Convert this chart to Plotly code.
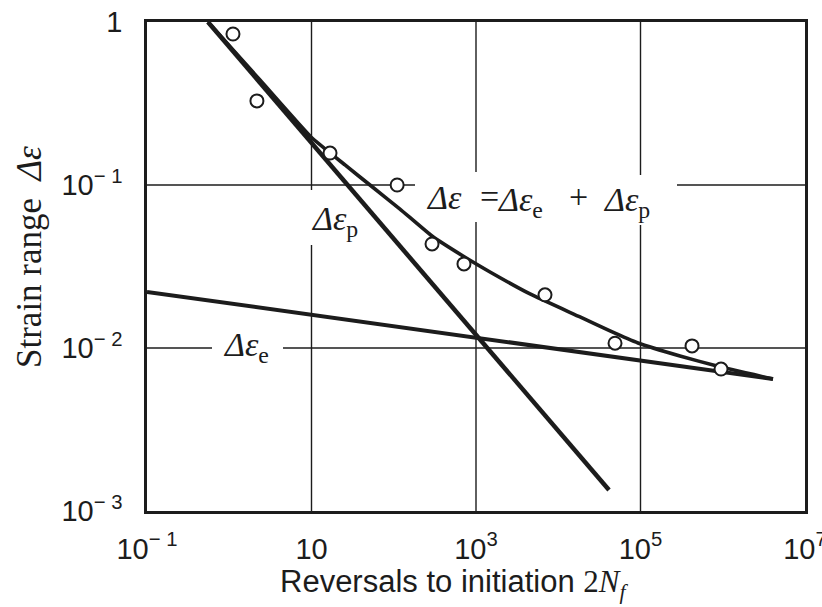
import plotly.graph_objects as go

# ---------------- data ----------------
# experimental points (reversals 2Nf, strain range)
exp_reversals = [1.11, 2.17, 16.8, 110, 292, 714, 6900, 49000, 423000, 953000]
exp_strain = [0.844, 0.328, 0.157, 0.100, 0.0435, 0.0328, 0.0212, 0.0107, 0.0103, 0.00743]

# plastic strain line (two end points)
plastic_reversals = [0.551, 41400]
plastic_strain = [1.0, 0.001345]

# elastic strain line (two end points)
elastic_reversals = [0.1, 4.08e6]
elastic_strain = [0.0221, 0.00645]

# total strain curve
total_reversals = [0.551, 2.365, 9.86, 25.55, 51.4, 119.1, 291.7, 694.8, 1480,
                   4534, 18385, 42580, 93250, 302100, 851300, 4.08e6]
total_strain = [1.0, 0.4406, 0.1970, 0.1327, 0.100, 0.0712, 0.04865, 0.03667, 0.02926,
                0.02145, 0.01550, 0.01272, 0.01073, 0.00893, 0.00775, 0.00645]

x_tickvals = [0.1, 10, 1e3, 1e5, 1e7]
x_ticktext = ["10<sup>− 1</sup>", "10", "10<sup>3</sup>", "10<sup>5</sup>", "10<sup>7</sup>"]
y_tickvals = [0.001, 0.01, 0.1, 1]
y_ticktext = ["10<sup>− 3</sup>", "10<sup>− 2</sup>", "10<sup>− 1</sup>", "1"]

# gridline decades (log10) drawn as segmented lines (gaps behind labels)
x_grid_decades = [1, 3, 5]
y_grid_decades = [-1, -2]

# ---------------- layout helpers (pixel -> paper) ----------------
W, H = 822, 607
L, R, T, B = 147, 805, 22, 511
XLOG = (-1, 7)
YLOG = (-3, 0)


def px(xp):
    return (xp - L) / (R - L)


def py(yp):
    return (B - yp) / (B - T)


INK = "#1c1c1c"
SERIF = "Liberation Serif, Times New Roman, serif"
NARROW = "Liberation Sans Narrow, Arial Narrow, Liberation Sans, Arial, sans-serif"
SANS = "Liberation Sans, Arial, sans-serif"

fig = go.Figure()

fig.add_trace(go.Scatter(x=elastic_reversals, y=elastic_strain, mode="lines",
                         line=dict(color=INK, width=4), hoverinfo="skip"))
fig.add_trace(go.Scatter(x=plastic_reversals, y=plastic_strain, mode="lines",
                         line=dict(color=INK, width=4.5), hoverinfo="skip"))
fig.add_trace(go.Scatter(x=total_reversals, y=total_strain, mode="lines",
                         line=dict(color=INK, width=3.6, shape="spline", smoothing=0.4),
                         hoverinfo="skip"))
fig.add_trace(go.Scatter(x=exp_reversals, y=exp_strain, mode="markers",
                         marker=dict(symbol="circle", size=13, color="white",
                                     line=dict(color=INK, width=2)),
                         hoverinfo="skip"))

# segmented gridlines: gaps (in pixels) where labels interrupt them
x_gaps = {1: (190, 245), 3: (172, 222), 5: (175, 225)}   # vertical: y-pixel gap
y_gaps = {-1: (415, 677), -2: (212, 283)}                # horizontal: x-pixel gap

shapes = []
gl = dict(color=INK, width=1.4)
for d in x_grid_decades:
    xp = (d - XLOG[0]) / (XLOG[1] - XLOG[0])
    g0, g1 = x_gaps[d]
    shapes.append(dict(type="line", xref="paper", yref="paper", x0=xp, x1=xp,
                       y0=0, y1=py(g1), line=gl, layer="below"))
    shapes.append(dict(type="line", xref="paper", yref="paper", x0=xp, x1=xp,
                       y0=py(g0), y1=1, line=gl, layer="below"))
for d in y_grid_decades:
    yp = (d - YLOG[0]) / (YLOG[1] - YLOG[0])
    g0, g1 = y_gaps[d]
    shapes.append(dict(type="line", xref="paper", yref="paper", x0=0, x1=px(g0),
                       y0=yp, y1=yp, line=gl, layer="below"))
    shapes.append(dict(type="line", xref="paper", yref="paper", x0=px(g1), x1=1,
                       y0=yp, y1=yp, line=gl, layer="below"))

ann = []


def label(text, xp, yp, size=34, xanchor="left", family=SERIF, angle=0):
    ann.append(dict(text=text, x=px(xp), y=py(yp), xref="paper", yref="paper",
                    xanchor=xanchor, yanchor="middle", showarrow=False,
                    textangle=angle, font=dict(family=family, size=size, color=INK)))


label("<i>Δε</i>", 424, 198)
label("=", 478, 196)
label("<i>Δε</i><sub>e</sub>", 495, 202)
label("+", 567, 196)
label("<i>Δε</i><sub>p</sub>", 601, 202)
label("<i>Δε</i><sub>p</sub>", 309, 221)
label("<i>Δε</i><sub>e</sub>", 221, 347)

# axis titles
label("Reversals to initiation <span style='font-family:Liberation Serif'>2<i>N</i><sub><i>f</i></sub></span>",
      454, 584, size=31, xanchor="center", family=SANS)
label("Strain range  <i>Δε</i>", 29, 257, size=35, xanchor="center", angle=-90)

fig.update_layout(
    width=W, height=H,
    margin=dict(l=L, r=W - R, t=T, b=H - B),
    paper_bgcolor="white", plot_bgcolor="white",
    showlegend=False,
    shapes=shapes, annotations=ann,
    xaxis=dict(type="log", range=list(XLOG), tickvals=x_tickvals, ticktext=x_ticktext,
               showgrid=False, automargin=False,
               showline=True, mirror=True, linecolor=INK, linewidth=2.5,
               ticks="", ticklabelstandoff=10, zeroline=False,
               ticklabeloverflow="allow",
               tickfont=dict(family=NARROW, size=29, color=INK)),
    yaxis=dict(type="log", range=list(YLOG), tickvals=y_tickvals, ticktext=y_ticktext,
               showgrid=False, automargin=False,
               showline=True, mirror=True, linecolor=INK, linewidth=2.5,
               ticks="", ticklabelstandoff=16, zeroline=False,
               tickfont=dict(family=NARROW, size=29, color=INK)),
)

fig.write_html("out.html")
